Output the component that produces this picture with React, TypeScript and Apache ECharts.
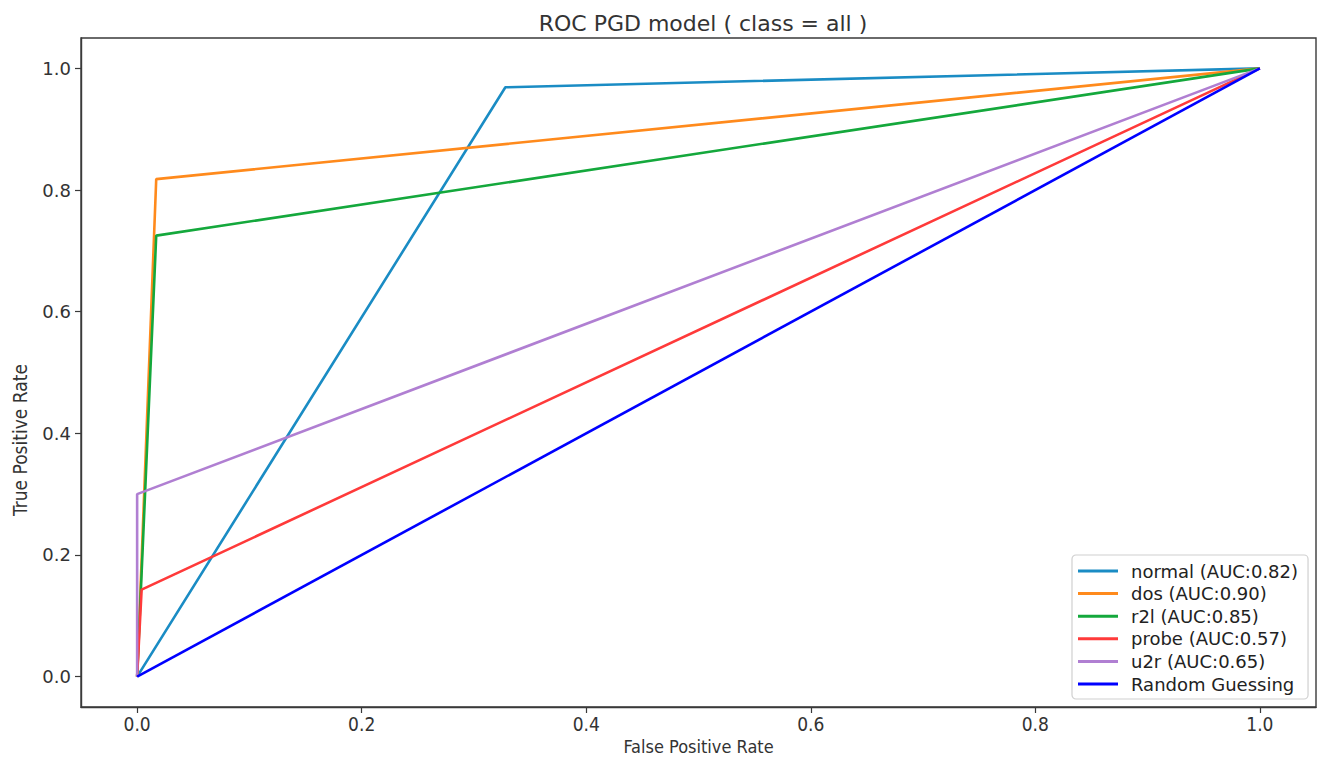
import React, { useEffect, useRef } from "react";
import * as echarts from "echarts";

const seriesNames = [
  "normal (AUC:0.82)",
  "dos (AUC:0.90)",
  "r2l (AUC:0.85)",
  "probe (AUC:0.57)",
  "u2r (AUC:0.65)",
  "Random Guessing",
];
const seriesColors = ["#1a8cc4", "#ff8a1c", "#14a83c", "#ff3a3a", "#b07fd2", "#0000ff"];

const normalPts = [[0, 0], [0.328, 0.969], [1, 1]];
const dosPts = [[0, 0], [0.017, 0.818], [1, 1]];
const r2lPts = [[0, 0], [0.017, 0.725], [1, 1]];
const probePts = [[0, 0], [0.004, 0.143], [1, 1]];
const u2rPts = [[0, 0], [0, 0.3], [1, 1]];
const randomPts = [[0, 0], [1, 1]];
const allPts = [normalPts, dosPts, r2lPts, probePts, u2rPts, randomPts];

const tickValues = [0, 0.2, 0.4, 0.6, 0.8, 1.0];

const condensed = "'DejaVu Sans Condensed', 'Liberation Sans Narrow', 'DejaVu Sans'";

export default function App() {
  const ref = useRef<HTMLDivElement>(null);
  useEffect(() => {
    if (!ref.current) return;
    const chart = echarts.init(ref.current, null, { renderer: "svg" });
    const axisColor = "#3a3a3a";
    chart.setOption({
      animation: false,
      backgroundColor: "#ffffff",
      title: {
        text: "ROC PGD model ( class = all )",
        left: 698,
        textAlign: "center",
        top: 7,
        textStyle: {
          fontFamily: "DejaVu Sans",
          fontSize: 22,
          fontWeight: "normal",
          color: "#333",
        },
      },
      grid: {
        left: 81,
        right: 9,
        top: 38,
        bottom: 51,
        containLabel: false,
        outerBoundsMode: "none",
        show: true,
        borderColor: axisColor,
        borderWidth: 1.4,
        backgroundColor: "transparent",
      },
      xAxis: {
        type: "value",
        min: -0.05,
        max: 1.05,
        splitLine: { show: false },
        axisLine: { show: true, onZero: false, lineStyle: { color: axisColor, width: 1.4 } },
        axisTick: {
          show: true,
          length: 6,
          inside: false,
          customValues: tickValues,
          lineStyle: { color: axisColor, width: 1.2 },
        },
        axisLabel: {
          customValues: tickValues,
          formatter: (v: number) => v.toFixed(1),
          fontFamily: condensed,
          fontSize: 19,
          color: "#333",
          margin: 7,
        },
        name: "False Positive Rate",
        nameLocation: "middle",
        nameGap: 27,
        nameTextStyle: {
          fontFamily: condensed,
          fontSize: 18,
          color: "#333",
        },
      },
      yAxis: {
        type: "value",
        min: -0.05,
        max: 1.05,
        splitLine: { show: false },
        axisLine: { show: true, onZero: false, lineStyle: { color: axisColor, width: 1.4 } },
        axisTick: {
          show: true,
          length: 6,
          inside: false,
          customValues: tickValues,
          lineStyle: { color: axisColor, width: 1.2 },
        },
        axisLabel: {
          customValues: tickValues,
          formatter: (v: number) => v.toFixed(1),
          fontFamily: "DejaVu Sans",
          fontSize: 18,
          color: "#333",
          margin: 10,
        },
      },
      legend: {
        orient: "vertical",
        left: 1072,
        top: 555,
        padding: [6, 10, 5, 6],
        itemWidth: 40,
        itemHeight: 3,
        itemGap: 2.6,
        icon: "rect",
        backgroundColor: "#fff",
        borderColor: "#d0d0d0",
        borderWidth: 1.2,
        borderRadius: 4,
        textStyle: {
          fontFamily: "DejaVu Sans",
          fontSize: 18,
          lineHeight: 20,
          color: "#222",
          padding: [0, 0, 0, 8],
        },
        data: seriesNames,
      },
      graphic: [
        {
          type: "text",
          x: 20,
          y: 440,
          rotation: Math.PI / 2,
          style: {
            text: "True Positive Rate",
            fontFamily: condensed,
            fontSize: 19,
            fill: "#333",
            align: "center",
            verticalAlign: "middle",
          },
        },
      ],
      series: allPts.map((pts, i) => ({
        name: seriesNames[i],
        type: "line",
        data: pts,
        showSymbol: false,
        symbol: "none",
        lineStyle: { color: seriesColors[i], width: 2.6 },
        itemStyle: { color: seriesColors[i] },
        z: 2 + i,
      })),
    });
    return () => chart.dispose();
  }, []);
  return (
    <div
      ref={ref}
      style={{ position: "fixed", left: 0, top: 0, width: 1325, height: 758 }}
    />
  );
}
